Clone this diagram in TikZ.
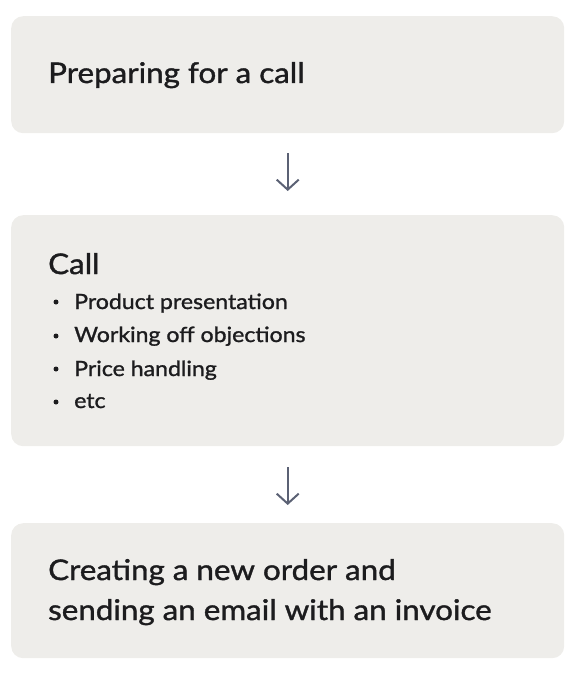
\documentclass[tikz,border=0pt]{standalone}
\usepackage{fontspec}
\setmainfont{Lato}[FakeStretch=1.1, FakeBold=1.3]
\usetikzlibrary{arrows.meta}
\definecolor{boxfill}{HTML}{EEEDEA}
\definecolor{txt}{HTML}{1C1C1E}
\definecolor{arr}{HTML}{5B6174}
\tikzset{
  panel/.style={fill=boxfill, draw=none, rounded corners=12pt, inner sep=0pt, anchor=north west},
  title/.style={anchor=base west, inner sep=0pt, text=txt, font=\fontsize{28.5}{40}\selectfont},
  item/.style={anchor=base west, inner sep=0pt, text=txt, font=\fontsize{21}{30}\selectfont},
  dot/.style={circle, fill=txt, inner sep=0pt, minimum size=5pt},
  flow/.style={draw=arr, line width=2pt, -{Straight Barb[length=10pt, width=22pt, line width=2pt]}}
}
\begin{document}
\begin{tikzpicture}[x=1pt, y=-1pt]
\useasboundingbox (0,0) rectangle (580,674);
\node[panel, minimum width=553pt, minimum height=117pt] (b1) at (11,16) {};
\node[panel, minimum width=553pt, minimum height=231pt] (b2) at (11,215) {};
\node[panel, minimum width=553pt, minimum height=135pt] (b3) at (11,523) {};

\node[title] (t1) at (48,83) {Preparing for a call};
\node[title] (t2) at (48,274) {Call};
\node[dot] (d1) at (56,302) {};
\node[item] (i1) at (74,309) {Product presentation};
\node[dot] (d2) at (56,336) {};
\node[item] (i2) at (74,342) {Working off objections};
\node[dot] (d3) at (56,369) {};
\node[item] (i3) at (74,376) {Price handling};
\node[dot] (d4) at (56,402) {};
\node[item] (i4) at (74,408) {etc};
\node[title] (t3a) at (48,580) {Creating a new order and};
\node[title] (t3b) at (48,620) {sending an email with an invoice};

\draw[flow, shorten <=20pt, shorten >=24pt] (b1.south) -- (b2.north);
\draw[flow, shorten <=21pt, shorten >=18pt] (b2.south) -- (b3.north);
\end{tikzpicture}
\end{document}
